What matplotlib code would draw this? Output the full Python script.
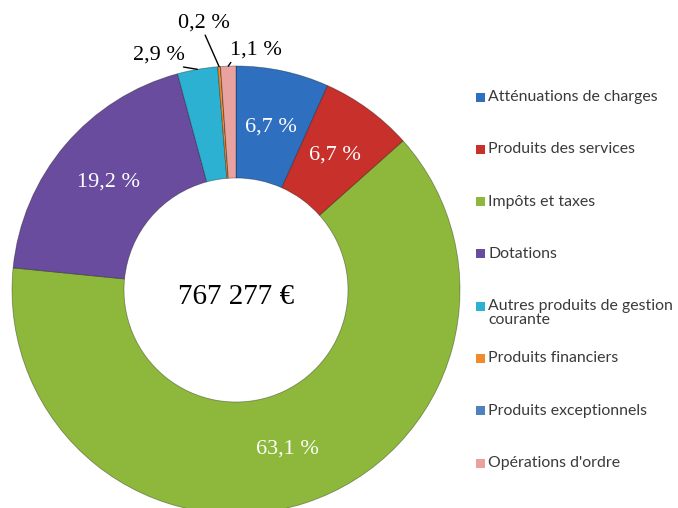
import matplotlib
matplotlib.use("Agg")
import matplotlib.pyplot as plt
from matplotlib.patches import Rectangle
import numpy as np

categories = ["Atténuations de charges", "Produits des services", "Impôts et taxes",
              "Dotations", "Autres produits de gestion\ncourante", "Produits financiers",
              "Produits exceptionnels", "Opérations d'ordre"]
values = [6.7, 6.7, 63.1, 19.2, 2.9, 0.2, 0.0, 1.1]
colors = ["#2F6FC0", "#C8302C", "#8DB83C", "#6A4C9E", "#2DB1D2", "#F08A2A", "#4F81BD", "#E8A3A0"]
total_label = "767 277 €"

W, H = 678, 508
fig = plt.figure(figsize=(W / 100, H / 100), dpi=100)
ax = fig.add_axes([0, 0, 1, 1])

cx, cy, R = 236, 218, 224
wedges, _ = ax.pie(values, colors=colors, startangle=90, counterclock=False,
                   radius=R, center=(cx, cy), frame=True,
                   wedgeprops=dict(width=R * 0.5, edgecolor=(0, 0, 0, 0.35), linewidth=0.6))
ax.set_xlim(0, W)
ax.set_ylim(0, H)
ax.set_aspect("equal")
ax.axis("off")

def fmt(v):
    return f"{v:.1f}".replace(".", ",") + " %"

serif = "Liberation Serif"
outside = {4: ((-39, 14.6), (0.55, 0.05)), 5: ((-15.6, 43.8), (0.5, 0.05)), 7: ((28, 16), (0.06, 0.05))}
for i, (w, v) in enumerate(zip(wedges, values)):
    if v <= 0:
        continue
    ang = np.deg2rad((w.theta1 + w.theta2) / 2)
    if i in outside:
        off, rp = outside[i]
        ex, ey = cx + R * np.cos(ang), cy + R * np.sin(ang)
        ax.annotate(fmt(v), xy=(ex, ey), xytext=off, textcoords="offset pixels",
                    ha="center", va="center", fontsize=16, family=serif, color="black",
                    arrowprops=dict(arrowstyle="-", color="black", lw=1.0, relpos=rp,
                                    shrinkA=0, shrinkB=0))
    else:
        r = R * 0.745
        ax.text(cx + r * np.cos(ang), cy + r * np.sin(ang), fmt(v), ha="center", va="center",
                fontsize=16, family=serif, color="white")

ax.text(cx, cy - 7, total_label, ha="center", va="center", fontsize=21, family=serif, color="black")

# legend
y0, step = 97, 52.3
for i, (lab, col) in enumerate(zip(categories, colors)):
    yd = H - (y0 + i * step)
    ax.add_patch(Rectangle((476, yd - 4.5), 9, 9, facecolor=col, edgecolor="none"))
    if "\n" in lab:
        ax.text(488, yd + 7.5, lab, ha="left", va="top", fontsize=11.4, family="Lato",
                color="#3A3A3A", linespacing=1.0)
    else:
        ax.text(488, yd, lab, ha="left", va="center", fontsize=11.4, family="Lato", color="#3A3A3A")

fig.savefig("out.png", dpi=100)
